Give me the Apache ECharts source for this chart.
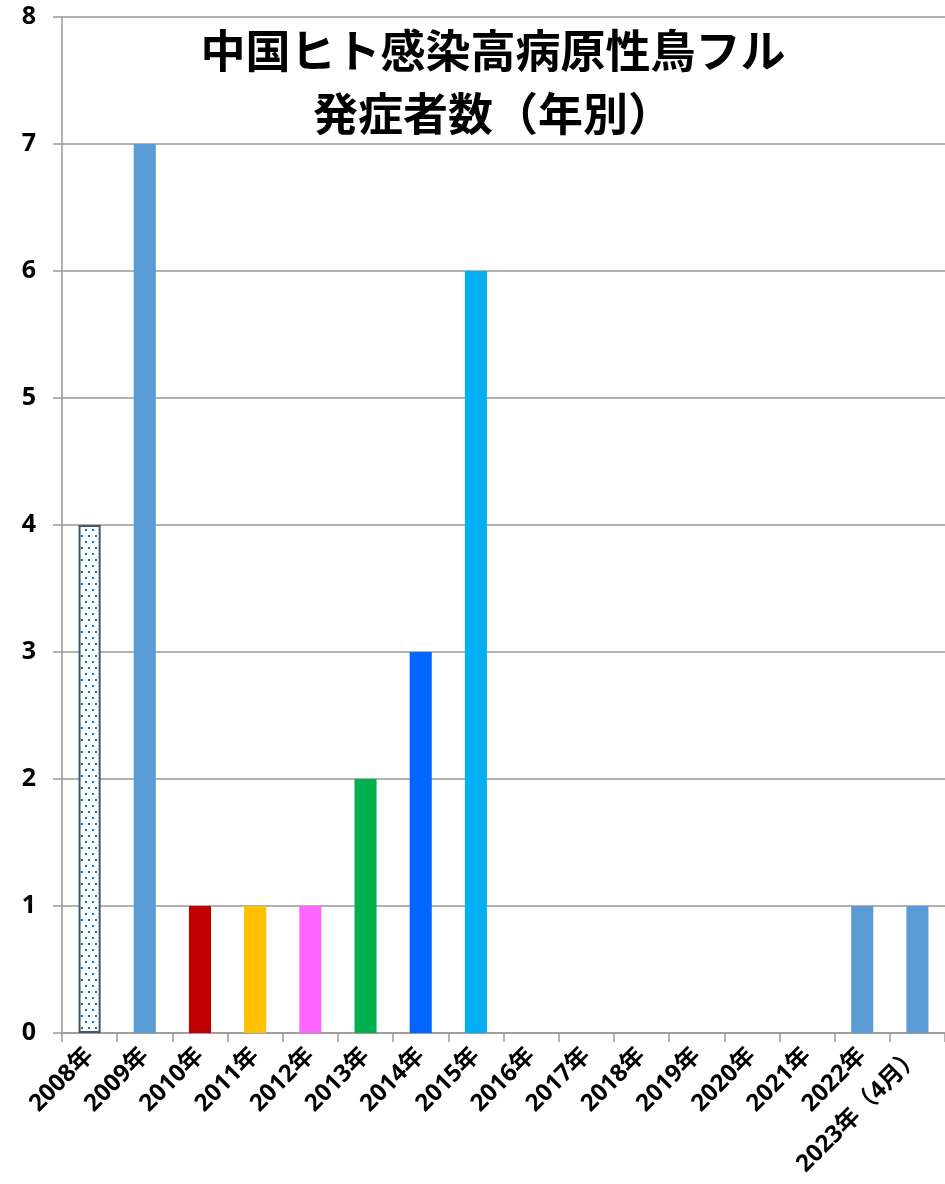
<!DOCTYPE html>
<html>
<head>
<meta charset="utf-8">
<script src="https://cdn.jsdelivr.net/npm/echarts@6/dist/echarts.min.js"></script>
<style>
html,body{margin:0;padding:0;background:#fff;}
#c{width:945px;height:1184px;}
</style>
</head>
<body>
<div id="c"></div>
<script>
const categories = ['2008年','2009年','2010年','2011年','2012年','2013年','2014年','2015年','2016年','2017年','2018年','2019年','2020年','2021年','2022年','2023年（4月）'];
const cases = [4,7,1,1,1,2,3,6,0,0,0,0,0,0,1,1];
const yTicks = [0,1,2,3,4,5,6,7,8];
const titleLines = ['中国ヒト感染高病原性鳥フル','発症者数（年別）'];

const barColors = ['pattern','#5B9BD5','#C00000','#FFC000','#FF66FF','#00B050','#0066FF','#00B0F0','#5B9BD5','#5B9BD5','#5B9BD5','#5B9BD5','#5B9BD5','#5B9BD5','#5B9BD5','#5B9BD5'];

function dotPattern(){
  const cv = document.createElement('canvas');
  cv.width = 7; cv.height = 12;
  const ctx = cv.getContext('2d');
  ctx.fillStyle = '#ffffff';
  ctx.fillRect(0,0,7,12);
  ctx.fillStyle = '#0070C0';
  ctx.fillRect(1,1,2,2);
  ctx.fillRect(4,7,2,2);
  return cv;
}

const seriesData = cases.map((v,i)=>{
  if (barColors[i]==='pattern') {
    return {value:v, itemStyle:{color:{image:dotPattern(), repeat:'repeat'}, borderColor:'#44546A', borderWidth:2}};
  }
  return {value:v, itemStyle:{color:barColors[i]}};
});

const labelFont = '"Noto Sans", "Noto Sans CJK JP", sans-serif';
const chart = echarts.init(document.getElementById('c'), null, {renderer:'canvas'});
chart.setOption({
  animation:false,
  backgroundColor:'#ffffff',
  title:{
    text: titleLines.join('\n'),
    left: 488,
    textAlign:'center',
    top: 14,
    textStyle:{fontFamily:'"Noto Sans CJK JP"', fontWeight:'bold', fontSize:45, lineHeight:63, color:'#000'}
  },
  grid:{left:62, width:889, top:17, height:1016, containLabel:false},
  xAxis:{
    type:'category',
    data:categories,
    axisLine:{lineStyle:{color:'#999999', width:1.5}},
    axisTick:{show:true, alignWithLabel:false, length:9, lineStyle:{color:'#999999', width:1.5}},
    axisLabel:{interval:0, rotate:45, margin:19, fontFamily:labelFont, fontWeight:'bold', fontSize:24, color:'#000'}
  },
  yAxis:{
    type:'value',
    min:yTicks[0], max:yTicks[yTicks.length-1], interval:1,
    axisLine:{show:true, lineStyle:{color:'#999999', width:1.5}},
    axisTick:{show:true, length:9, lineStyle:{color:'#999999', width:1.5}},
    splitLine:{show:true, lineStyle:{color:'#999999', width:1.5}},
    axisLabel:{margin:26, fontFamily:labelFont, fontWeight:'bold', fontSize:25, color:'#000'}
  },
  series:[{
    type:'bar',
    data:seriesData,
    barCategoryGap:'60%'
  }]
});
</script>
</body>
</html>
